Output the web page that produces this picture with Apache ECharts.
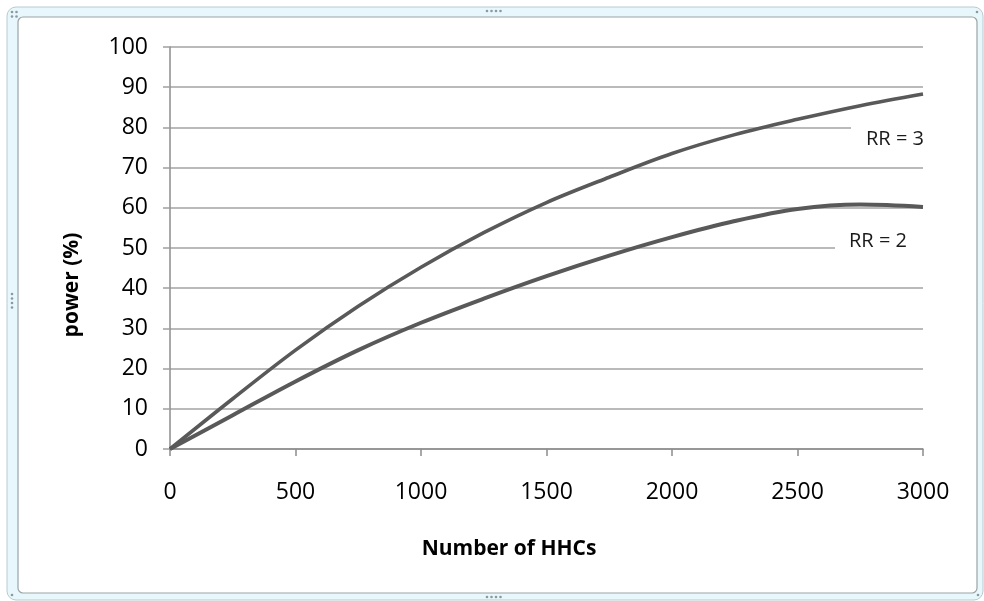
<!DOCTYPE html>
<html>
<head>
<meta charset="utf-8">
<script src="https://cdn.jsdelivr.net/npm/echarts@6/dist/echarts.min.js"></script>
<style>
html,body{margin:0;padding:0;background:#fff;}
#chart{width:984px;height:601px;}
</style>
</head>
<body>
<div id="chart"></div>
<script>
// Data
var hhcs = [0, 250, 500, 750, 1000, 1250, 1500, 1750, 2000, 2250, 2500, 2750, 3000];
var powerRR3 = [0, 12.5, 24.6, 35.5, 45.2, 53.8, 61.3, 67.6, 73.5, 78.2, 82.0, 85.4, 88.3];
var powerRR2 = [0, 8.4, 16.8, 24.6, 31.4, 37.4, 43.0, 48.1, 52.7, 56.7, 59.7, 60.8, 60.2];
var seriesNames = ['RR = 3', 'RR = 2'];
var yTicks = [0, 10, 20, 30, 40, 50, 60, 70, 80, 90, 100];
var xTicks = [0, 500, 1000, 1500, 2000, 2500, 3000];

function pairs(xs, ys) { return xs.map(function (x, i) { return [x, ys[i]]; }); }

var FONT = '"Open Sans", "Liberation Sans", sans-serif';
var chart = echarts.init(document.getElementById('chart'), null, {renderer: 'canvas'});

function dots(cx, cy, n, vertical) {
  var arr = [];
  for (var i = 0; i < n; i++) {
    arr.push({
      type: 'circle', z: -5,
      shape: {cx: vertical ? cx : cx + i * 4.5, cy: vertical ? cy + i * 4.5 : cy, r: 1.3},
      style: {fill: '#8a9a9e'}
    });
  }
  return arr;
}

var graphics = [
  {type: 'rect', z: -10, shape: {x: 7, y: 7, width: 976, height: 593, r: 9},
   style: {fill: '#e8f7fb', stroke: '#b9cace', lineWidth: 1}},
  {type: 'rect', z: -9, shape: {x: 18, y: 17, width: 959, height: 576, r: 5},
   style: {fill: '#ffffff', stroke: '#9aa4a6', lineWidth: 1.2}},
  {type: 'text', z: 10, x: 72, y: 285, rotation: Math.PI / 2,
   style: {text: 'power (%)', font: 'bold 21px ' + FONT, fill: '#000', align: 'center', verticalAlign: 'middle'}},
  {type: 'text', z: 10, x: 509, y: 549,
   style: {text: 'Number of HHCs', font: 'bold 21px ' + FONT, fill: '#000', align: 'center', verticalAlign: 'middle'}},
  {type: 'text', z: 10, x: 851, y: 139,
   style: {text: seriesNames[0], font: '20px ' + FONT, fill: '#1a1a1a', align: 'left', verticalAlign: 'middle',
           backgroundColor: '#fff', padding: [6, 20, 6, 15]}},
  {type: 'text', z: 10, x: 835, y: 241,
   style: {text: seriesNames[1], font: '20px ' + FONT, fill: '#1a1a1a', align: 'left', verticalAlign: 'middle',
           backgroundColor: '#fff', padding: [6, 32, 6, 14]}}
].concat(dots(487, 11, 4, false), dots(487, 597, 4, false), dots(12, 294, 4, true),
         dots(12, 12, 2, false), dots(12, 16.5, 2, false), dots(977, 12, 1, false), dots(12, 595, 1, false), dots(978, 595, 1, false));

var option = {
  animation: false,
  backgroundColor: '#ffffff',
  grid: {left: 170, right: 61, top: 47, bottom: 152, containLabel: false},
  xAxis: {
    type: 'value', min: xTicks[0], max: xTicks[xTicks.length - 1], interval: 500,
    axisLine: {show: true, onZero: false, lineStyle: {color: '#8c8c8c', width: 1.5}},
    axisTick: {show: true, inside: false, length: 7, lineStyle: {color: '#8c8c8c', width: 1.5}},
    axisLabel: {margin: 32, fontSize: 23, fontFamily: FONT, color: '#000',
                formatter: function (v) { return String(v); }},
    splitLine: {show: false}
  },
  yAxis: {
    type: 'value', min: yTicks[0], max: yTicks[yTicks.length - 1], interval: 10,
    axisLine: {show: true, lineStyle: {color: '#8c8c8c', width: 1.5}},
    axisTick: {show: true, inside: false, length: 7, lineStyle: {color: '#a0a0a0', width: 1.5}},
    axisLabel: {margin: 22, fontSize: 23, fontFamily: FONT, color: '#000',
                formatter: function (v) { return String(v); }},
    splitLine: {show: true, lineStyle: {color: '#a3a3a3', width: 1.5}}
  },
  series: [
    {name: seriesNames[0], type: 'line', data: pairs(hhcs, powerRR3), smooth: 0.35, showSymbol: false,
     lineStyle: {color: '#595959', width: 3.6}, z: 3},
    {name: seriesNames[1], type: 'line', data: pairs(hhcs, powerRR2), smooth: 0.35, showSymbol: false,
     lineStyle: {color: '#595959', width: 4}, z: 3}
  ],
  graphic: graphics
};
chart.setOption(option);
</script>
</body>
</html>
